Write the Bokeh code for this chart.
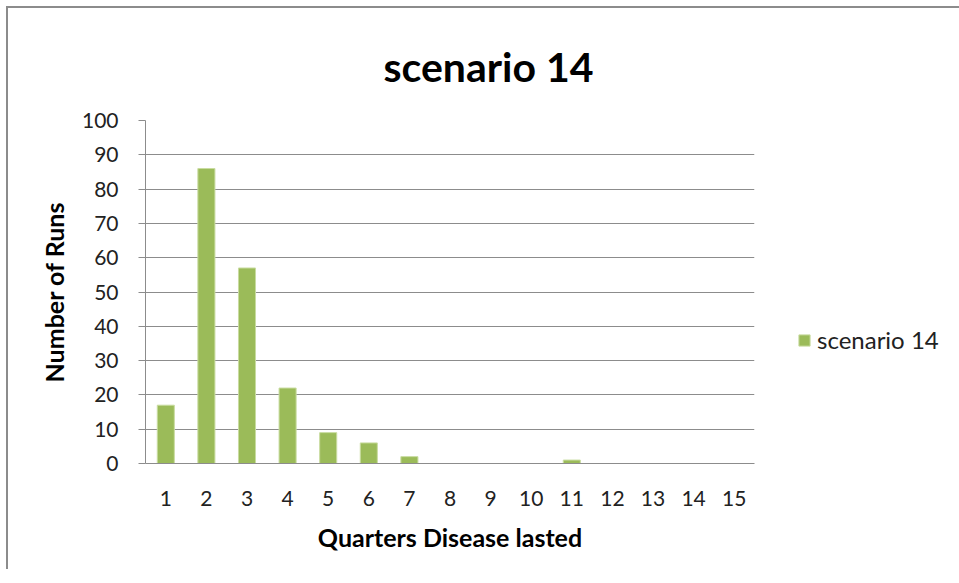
from bokeh.plotting import figure
from bokeh.models import ColumnDataSource, FactorRange, Range1d, SingleIntervalTicker, Legend, LegendItem
from bokeh.embed import file_html
from bokeh.resources import INLINE

categories = [str(i) for i in range(1, 16)]
runs = [17, 86, 57, 22, 9, 6, 2, 0, 0, 0, 1, 0, 0, 0, 0]
series_name = "scenario 14"
title_text = "scenario 14"
x_label = "Quarters Disease lasted"
y_label = "Number of Runs"

FONT = "Lato"
GRID = "#8c8c8c"
GREEN = "#9bbb59"

src = ColumnDataSource(data=dict(x=categories, y=runs))

p = figure(
    x_range=FactorRange(factors=categories, range_padding=0),
    y_range=Range1d(0, 100),
    frame_width=609, frame_height=343,
    min_border_left=137, min_border_top=112,
    min_border_right=190, min_border_bottom=106,
    output_backend="svg", toolbar_location=None,
    title=title_text,
)
p.styles = {"margin-left": "6px", "margin-top": "6px",
            "border-left": "2px solid #8c8c8c", "border-top": "2px solid #8c8c8c"}
p.outline_line_color = None
p.background_fill_color = "white"
p.border_fill_color = "white"

p.title.text_font = FONT
p.title.text_font_size = "41px"
p.title.text_font_style = "bold"
p.title.text_color = "black"
p.title.align = "left"
p.title.offset = 238
p.title.standoff = 60

r = p.vbar(x="x", top="y", width=0.42, source=src, fill_color=GREEN, line_color="#c9dca0", line_width=1)

# axes
p.yaxis.ticker = SingleIntervalTicker(interval=10)
p.yaxis.axis_line_color = GRID
p.yaxis.major_tick_line_color = GRID
p.yaxis.major_tick_out = 7
p.yaxis.major_tick_in = 0
p.yaxis.minor_tick_line_color = None
p.yaxis.major_label_text_font = FONT
p.yaxis.major_label_text_font_size = "21px"
p.yaxis.major_label_text_color = "#222222"
p.yaxis.major_label_standoff = 20
p.yaxis.axis_label = y_label
p.yaxis.axis_label_text_font = FONT
p.yaxis.axis_label_text_font_size = "25px"
p.yaxis.axis_label_text_font_style = "bold"
p.yaxis.axis_label_text_color = "black"
p.yaxis.axis_label_standoff = 10

p.xaxis.axis_line_color = GRID
p.xaxis.major_tick_line_color = None
p.xaxis.minor_tick_line_color = None
p.xaxis.major_tick_out = 0
p.xaxis.major_tick_in = 0
p.xaxis.major_label_text_font = FONT
p.xaxis.major_label_text_font_size = "21px"
p.xaxis.major_label_text_color = "#222222"
p.xaxis.major_label_standoff = 27
p.xaxis.axis_label = x_label
p.xaxis.axis_label_text_font = FONT
p.xaxis.axis_label_text_font_size = "25px"
p.xaxis.axis_label_text_font_style = "bold"
p.xaxis.axis_label_text_color = "black"
p.xaxis.axis_label_standoff = 13

p.xgrid.grid_line_color = None
p.ygrid.grid_line_color = GRID
p.ygrid.grid_line_width = 1

legend = Legend(
    items=[LegendItem(label=series_name, renderers=[r])],
    location=(43, 109),
    glyph_width=14, glyph_height=14,
    label_standoff=6, padding=0, margin=0, spacing=0,
    border_line_color=None, background_fill_alpha=0,
    label_text_font=FONT, label_text_font_size="24px", label_text_color="#222222",
)
p.add_layout(legend, "right")

open("out.html", "w").write(file_html(p, INLINE))
